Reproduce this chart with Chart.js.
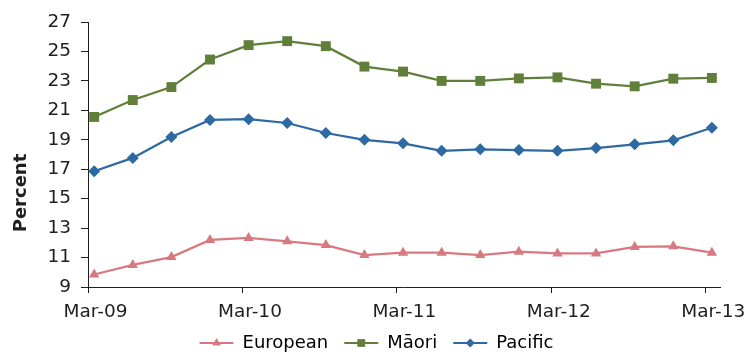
<!DOCTYPE html>
<html>
<head>
<meta charset="utf-8">
<script src="https://cdn.jsdelivr.net/npm/chart.js@4.4.1/dist/chart.umd.min.js"></script>
<style>
  html, body { margin: 0; padding: 0; background: #fff; }
  #wrap { width: 753px; height: 352px; }
</style>
</head>
<body>
<div id="wrap"><canvas id="c" width="753" height="352"></canvas></div>
<script>
// Quarterly series, March 2009 to March 2013 (percent)
const quarters = ['Mar-09', 'Jun-09', 'Sep-09', 'Dec-09', 'Mar-10', 'Jun-10', 'Sep-10', 'Dec-10',
                  'Mar-11', 'Jun-11', 'Sep-11', 'Dec-11', 'Mar-12', 'Jun-12', 'Sep-12', 'Dec-12', 'Mar-13'];
const tickLabels = ['Mar-09', 'Mar-10', 'Mar-11', 'Mar-12', 'Mar-13'];
const european = [9.85, 10.5, 11.03, 12.2, 12.33, 12.1, 11.85, 11.17, 11.33, 11.33, 11.17, 11.4, 11.28, 11.28, 11.72, 11.76, 11.33];
const maori    = [20.55, 21.7, 22.58, 24.45, 25.43, 25.7, 25.36, 23.97, 23.63, 23.0, 23.0, 23.17, 23.24, 22.81, 22.63, 23.15, 23.2];
const pacific  = [16.86, 17.77, 19.19, 20.35, 20.4, 20.14, 19.46, 19.0, 18.76, 18.25, 18.35, 18.3, 18.25, 18.44, 18.69, 18.96, 19.82];
const yTicks = [9, 11, 13, 15, 17, 19, 21, 23, 25, 27];

// Tick marks sit at the start of each month, slightly before the quarterly points
const TICK_SHIFT = 0.16;

const FONT = 'DejaVu Sans, Verdana, sans-serif';
const INK = '#1f1f1f';

const toPoints = arr => arr.map((v, i) => ({ x: i, y: v }));

const series = [
  { label: 'European', data: european, color: '#D77A80', style: 'triangle', radius: 6,   legendRadius: 5 },
  { label: 'M\u0101ori', data: maori,  color: '#5F7F3B', style: 'rect',     radius: 7,   legendRadius: 5.5 },
  { label: 'Pacific',  data: pacific,  color: '#2F69A1', style: 'rectRot',  radius: 6,   legendRadius: 4.5 }
];

// Markers drawn over the legend line samples
const legendMarkers = {
  id: 'legendMarkers',
  afterDraw(chart) {
    const lg = chart.legend;
    if (!lg || !lg.legendHitBoxes) return;
    const ctx = chart.ctx;
    const boxW = lg.options.labels.boxWidth;
    lg.legendHitBoxes.forEach((hb, i) => {
      const s = series[i];
      ctx.save();
      ctx.fillStyle = s.color;
      ctx.strokeStyle = s.color;
      Chart.helpers.drawPoint(ctx, { pointStyle: s.style, radius: s.legendRadius, rotation: 0, borderWidth: 0 },
        hb.left + boxW / 2, hb.top + hb.height / 2);
      ctx.restore();
    });
  }
};

// Vertical axis title
const axisTitle = {
  id: 'axisTitle',
  afterDraw(chart) {
    const ctx = chart.ctx;
    ctx.save();
    ctx.translate(21, 193);
    ctx.rotate(-Math.PI / 2);
    ctx.font = 'bold 18px ' + FONT;
    ctx.fillStyle = INK;
    ctx.textAlign = 'center';
    ctx.textBaseline = 'middle';
    ctx.fillText('Percent', 0, 0);
    ctx.restore();
  }
};

new Chart(document.getElementById('c'), {
  type: 'line',
  data: {
    datasets: series.map(s => ({
      label: s.label,
      data: toPoints(s.data),
      borderColor: s.color,
      backgroundColor: s.color,
      pointBackgroundColor: s.color,
      pointBorderColor: s.color,
      pointBorderWidth: 0,
      pointStyle: s.style,
      pointRadius: s.radius,
      pointHoverRadius: s.radius,
      borderWidth: 2.25,
      tension: 0,
      fill: false
    }))
  },
  options: {
    responsive: false,
    animation: false,
    devicePixelRatio: 1,
    layout: { padding: { left: 33, right: 33, top: 22, bottom: -10 } },
    font: { family: FONT },
    scales: {
      x: {
        type: 'linear',
        min: -TICK_SHIFT,
        max: quarters.length - 1 + 0.21,
        afterBuildTicks(scale) {
          scale.ticks = tickLabels.map(l => ({ value: quarters.indexOf(l) - TICK_SHIFT }));
        },
        afterFit(scale) { scale.height = 31; },
        ticks: {
          callback: (v, i) => tickLabels[i],
          font: { family: FONT, size: 18.5 },
          color: INK,
          padding: 8,
          labelOffset: 7.5,
          maxRotation: 0,
          autoSkip: false
        },
        grid: { drawOnChartArea: false, drawTicks: true, tickLength: 6, color: INK, lineWidth: 1 },
        border: { display: true, color: INK, width: 1 }
      },
      y: {
        min: 9,
        max: 27,
        afterBuildTicks(scale) {
          scale.ticks = yTicks.map(v => ({ value: v }));
        },
        afterFit(scale) { scale.width = 55; },
        ticks: {
          font: { family: FONT, size: 18.5 },
          color: INK,
          padding: 10
        },
        grid: { drawOnChartArea: false, drawTicks: true, tickLength: 7, color: INK, lineWidth: 1 },
        border: { display: true, color: INK, width: 1 }
      }
    },
    plugins: {
      tooltip: { enabled: false },
      title: { display: false },
      legend: {
        position: 'bottom',
        labels: {
          font: { family: FONT, size: 18 },
          color: INK,
          boxWidth: 34,
          boxHeight: 2,
          padding: 16,
          generateLabels(chart) {
            return chart.data.datasets.map((ds, i) => ({
              text: ds.label,
              fillStyle: ds.borderColor,
              strokeStyle: ds.borderColor,
              lineWidth: 0,
              hidden: false,
              datasetIndex: i
            }));
          }
        }
      }
    }
  },
  plugins: [legendMarkers, axisTitle]
});
</script>
</body>
</html>
